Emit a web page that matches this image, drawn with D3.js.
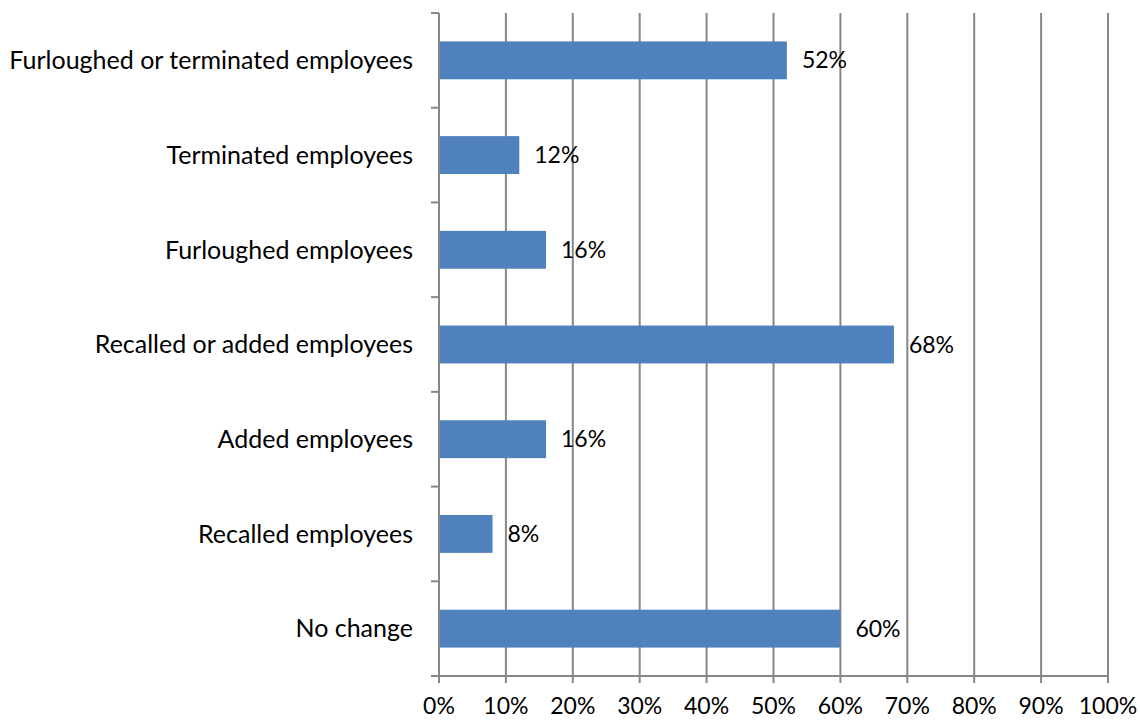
<!DOCTYPE html>
<html lang="en"><head>
<meta charset="utf-8">
<title>employment changes</title>
<script src="https://cdn.jsdelivr.net/npm/d3@7"></script>
<style>
  body { margin: 0; background: #fff; }
  text { font-family: Lato, "Open Sans", sans-serif; fill: #000; }
</style>
</head>
<body>
<svg width="1140" height="725"></svg>
<script>
var categories = ["Furloughed or terminated employees", "Terminated employees", "Furloughed employees",
                  "Recalled or added employees", "Added employees", "Recalled employees", "No change"];
var values = [52, 12, 16, 68, 16, 8, 60];
var xTicks = [0, 10, 20, 30, 40, 50, 60, 70, 80, 90, 100];

var svg = d3.select("svg");
var plotLeft = 439, plotRight = 1108, plotTop = 13, plotBottom = 676;
var grid = "#878787";

var x = d3.scaleLinear().domain([0, 100]).range([plotLeft, plotRight]);
var y = d3.scaleBand().domain(categories).range([plotTop, plotBottom]).paddingInner(0.6).paddingOuter(0.3);

// vertical gridlines + ticks below
svg.append("g").selectAll("line")
  .data(xTicks.slice(1))
  .enter().append("line")
  .attr("x1", d => x(d)).attr("x2", d => x(d))
  .attr("y1", plotTop).attr("y2", plotBottom + 7)
  .attr("stroke", grid).attr("stroke-width", 2);

// bars
svg.append("g").selectAll("rect")
  .data(values)
  .enter().append("rect")
  .attr("x", x(0))
  .attr("y", (d, i) => y(categories[i]))
  .attr("width", d => x(d) - x(0))
  .attr("height", y.bandwidth())
  .attr("fill", "#4f81bd");

// y axis line and ticks
svg.append("line")
  .attr("x1", plotLeft).attr("x2", plotLeft).attr("y1", plotTop).attr("y2", plotBottom + 7)
  .attr("stroke", grid).attr("stroke-width", 2);
var bounds = categories.map(c => y(c) - y.step() * y.paddingInner() / 2);
bounds[0] = plotTop;
bounds.push(plotBottom);
svg.append("g").selectAll("line")
  .data(bounds)
  .enter().append("line")
  .attr("x1", plotLeft - 8).attr("x2", plotLeft)
  .attr("y1", d => d).attr("y2", d => d)
  .attr("stroke", grid).attr("stroke-width", 2);

// x axis line
svg.append("line")
  .attr("x1", plotLeft - 8).attr("x2", plotRight + 1).attr("y1", plotBottom).attr("y2", plotBottom)
  .attr("stroke", grid).attr("stroke-width", 2);

// x tick labels
svg.append("g").selectAll("text")
  .data(xTicks)
  .enter().append("text")
  .attr("x", d => x(d))
  .attr("y", 714)
  .attr("text-anchor", "middle")
  .style("font-size", "23px")
  .text(d => d + "%");

// category labels
svg.append("g").selectAll("text")
  .data(categories)
  .enter().append("text")
  .attr("x", 413)
  .attr("y", d => y(d) + y.bandwidth() / 2)
  .attr("dy", "0.35em")
  .attr("text-anchor", "end")
  .style("font-size", "25px")
  .text(d => d);

// value labels
svg.append("g").selectAll("text")
  .data(values)
  .enter().append("text")
  .attr("x", d => x(d) + 15)
  .attr("y", (d, i) => y(categories[i]) + y.bandwidth() / 2)
  .attr("dy", "0.35em")
  .style("font-size", "23px")
  .text(d => d + "%");
</script>
</body>
</html>
